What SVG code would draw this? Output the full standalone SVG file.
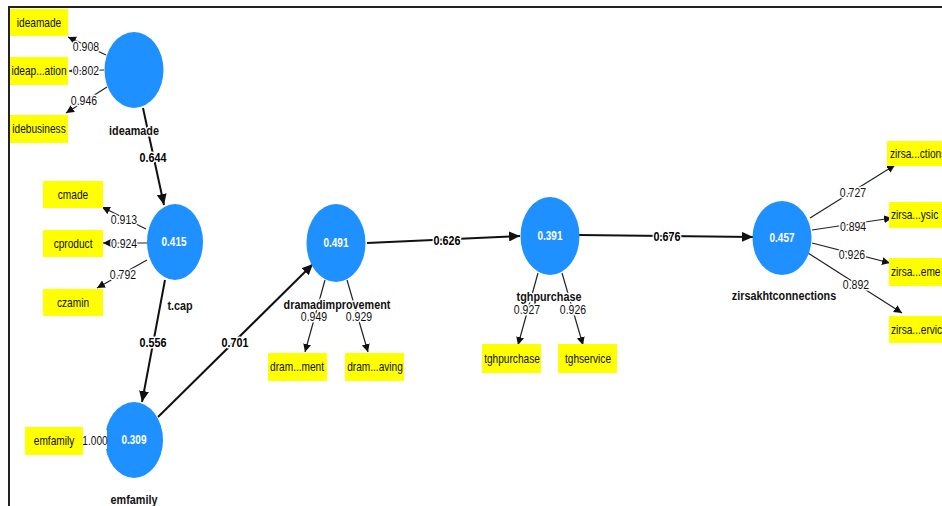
<svg xmlns="http://www.w3.org/2000/svg" width="942" height="506" viewBox="0 0 942 506">
<style>
text{font-family:"Liberation Sans",Arial,sans-serif;transform-box:fill-box;transform-origin:center;}
.lv{fill:#1e90ff;}
.ind{fill:#ffff00;}
.it{font-size:12.5px;fill:#111;text-anchor:middle;transform:scaleX(0.81);}
.its{text-anchor:start;transform-origin:left center;}
.r2{font-size:12.5px;font-weight:bold;fill:#fff;text-anchor:middle;transform:scaleX(0.8);}
.nm{font-size:13.5px;font-weight:bold;fill:#111;text-anchor:middle;stroke:#fff;stroke-width:3;paint-order:stroke;stroke-linejoin:round;transform:scaleX(0.8);}
.lbl{font-size:12.5px;fill:#111;text-anchor:middle;stroke:#fff;stroke-width:3;paint-order:stroke;stroke-linejoin:round;transform:scaleX(0.84);}
.plbl{font-size:12.5px;font-weight:bold;fill:#000;text-anchor:middle;stroke:#fff;stroke-width:3;paint-order:stroke;stroke-linejoin:round;transform:scaleX(0.86);}
.out{stroke:#222;stroke-width:1.2;fill:none;marker-end:url(#ah);}
.path{stroke:#111;stroke-width:2;fill:none;marker-end:url(#ahb);}
</style>
<defs>
<marker id="ah" markerUnits="userSpaceOnUse" markerWidth="9" markerHeight="9" refX="8" refY="4" orient="auto"><path d="M0,0 L8,4 L0,8 Z" fill="#111"/></marker>
<marker id="ahb" markerUnits="userSpaceOnUse" markerWidth="12" markerHeight="10" refX="11" refY="5" orient="auto"><path d="M0,0 L11,5 L0,10 Z" fill="#111"/></marker>
</defs>
<rect width="942" height="506" fill="#fff"/>
<path d="M9,506 V7 H942" fill="none" stroke="#222" stroke-width="2"/>

<g id="connectors">
  <line class="path" x1="143" y1="108" x2="164" y2="205"/>
  <line class="path" x1="165" y1="280" x2="142" y2="402"/>
  <line class="path" x1="158" y1="417" x2="313" y2="264"/>
  <line class="path" x1="367" y1="243" x2="520" y2="236"/>
  <line class="path" x1="579" y1="235" x2="753" y2="237"/>
  <line class="out" x1="106" y1="55" x2="68" y2="37"/>
  <line class="out" x1="104" y1="70" x2="69" y2="71"/>
  <line class="out" x1="107" y1="87" x2="66" y2="113"/>
  <line class="out" x1="146" y1="229" x2="102" y2="207"/>
  <line class="out" x1="147" y1="243" x2="103" y2="243"/>
  <line class="out" x1="147" y1="260" x2="97" y2="288"/>
  <line x1="105" y1="440" x2="83" y2="440" stroke="#222" stroke-width="1.2"/>
  <line class="out" x1="325" y1="280" x2="305" y2="352"/>
  <line class="out" x1="347" y1="280" x2="368" y2="352"/>
  <line class="out" x1="538" y1="273" x2="518" y2="345"/>
  <line class="out" x1="562" y1="273" x2="583" y2="345"/>
  <line class="out" x1="810" y1="218" x2="895" y2="165"/>
  <line class="out" x1="812" y1="230" x2="892" y2="218"/>
  <line class="out" x1="812" y1="243" x2="890" y2="263"/>
  <line class="out" x1="808" y1="253" x2="902" y2="313"/>
  <text class="plbl" x="153" y="162">0.644</text>
  <text class="plbl" x="153" y="347">0.556</text>
  <text class="plbl" x="235" y="347">0.701</text>
  <text class="plbl" x="447" y="245">0.626</text>
  <text class="plbl" x="667" y="241">0.676</text>
  <text class="lbl" x="86" y="51">0.908</text>
  <text class="lbl" x="86" y="75">0.802</text>
  <text class="lbl" x="84" y="105">0.946</text>
  <text class="lbl" x="124" y="224">0.913</text>
  <text class="lbl" x="124" y="248">0.924</text>
  <text class="lbl" x="123" y="279">0.792</text>
  <text class="lbl" x="853" y="197">0.727</text>
  <text class="lbl" x="853" y="231">0.894</text>
  <text class="lbl" x="852" y="259">0.926</text>
  <text class="lbl" x="856" y="289">0.892</text>
</g>

<g id="ideamade">
  <ellipse class="lv" cx="134" cy="70" rx="29.5" ry="38"/>
  <text class="nm" x="134" y="135">ideamade</text>
</g>
<g id="tcap">
  <ellipse class="lv" cx="175" cy="242" rx="28" ry="38"/>
  <text class="r2" x="174" y="246">0.415</text>
  <text class="nm" x="180" y="310">t.cap</text>
</g>
<g id="emfamily">
  <ellipse class="lv" cx="134" cy="440" rx="29" ry="38"/>
  <text class="r2" x="134" y="444">0.309</text>
  <text class="nm" x="134" y="504">emfamily</text>
</g>
<g id="dramadimprovement">
  <ellipse class="lv" cx="336" cy="243" rx="29.5" ry="39"/>
  <text class="r2" x="336" y="247">0.491</text>
  <text class="nm" x="337" y="309">dramadimprovement</text>
  <text class="lbl" x="314" y="321">0.949</text>
  <text class="lbl" x="359" y="321">0.929</text>
</g>
<g id="tghpurchase">
  <ellipse class="lv" cx="550" cy="236" rx="29.5" ry="39"/>
  <text class="r2" x="550" y="240">0.391</text>
  <text class="nm" x="549" y="301">tghpurchase</text>
  <text class="lbl" x="527" y="314">0.927</text>
  <text class="lbl" x="573" y="314">0.926</text>
</g>
<g id="zirsakhtconnections">
  <ellipse class="lv" cx="782" cy="238" rx="29.5" ry="37"/>
  <text class="r2" x="782" y="242">0.457</text>
  <text class="nm" x="784" y="300">zirsakhtconnections</text>
</g>

<g id="ind-ideamade"><rect class="ind" x="10" y="9" width="58" height="27"/><text class="it" x="39" y="27">ideamade</text></g>
<g id="ind-ideapation"><rect class="ind" x="10" y="57" width="58" height="28"/><text class="it" x="39" y="75">ideap...ation</text></g>
<g id="ind-idebusiness"><rect class="ind" x="10" y="115" width="58" height="28"/><text class="it" x="39" y="133">idebusiness</text></g>
<g id="ind-cmade"><rect class="ind" x="43" y="181" width="60" height="27"/><text class="it" x="73" y="199">cmade</text></g>
<g id="ind-cproduct"><rect class="ind" x="43" y="230" width="60" height="27"/><text class="it" x="73" y="248">cproduct</text></g>
<g id="ind-czamin"><rect class="ind" x="43" y="289" width="60" height="27"/><text class="it" x="73" y="307">czamin</text></g>
<g id="ind-emfamily"><rect class="ind" x="25" y="427" width="58" height="28"/><text class="it" x="54" y="445">emfamily</text>
  <rect x="83" y="430" width="24" height="19" fill="#fff"/><text class="it" x="95" y="445">1.000</text></g>
<g id="ind-dramment"><rect class="ind" x="268" y="353" width="59" height="28"/><text class="it" x="297" y="371">dram...ment</text></g>
<g id="ind-dramaving"><rect class="ind" x="345" y="353" width="59" height="28"/><text class="it" x="375" y="371">dram...aving</text></g>
<g id="ind-tghpurchase"><rect class="ind" x="482" y="344" width="59" height="29"/><text class="it" x="512" y="363">tghpurchase</text></g>
<g id="ind-tghservice"><rect class="ind" x="558" y="344" width="59" height="29"/><text class="it" x="588" y="363">tghservice</text></g>
<g id="ind-zirsa1"><rect class="ind" x="887" y="141" width="62" height="25"/><text class="it its" x="890" y="158">zirsa...ctions</text></g>
<g id="ind-zirsa2"><rect class="ind" x="889" y="202" width="60" height="26"/><text class="it its" x="891" y="219">zirsa...ysic</text></g>
<g id="ind-zirsa3"><rect class="ind" x="889" y="258" width="60" height="28"/><text class="it its" x="891" y="276">zirsa...eme</text></g>
<g id="ind-zirsa4"><rect class="ind" x="889" y="316" width="60" height="27"/><text class="it its" x="891" y="334">zirsa...ervic</text></g>
</svg>
